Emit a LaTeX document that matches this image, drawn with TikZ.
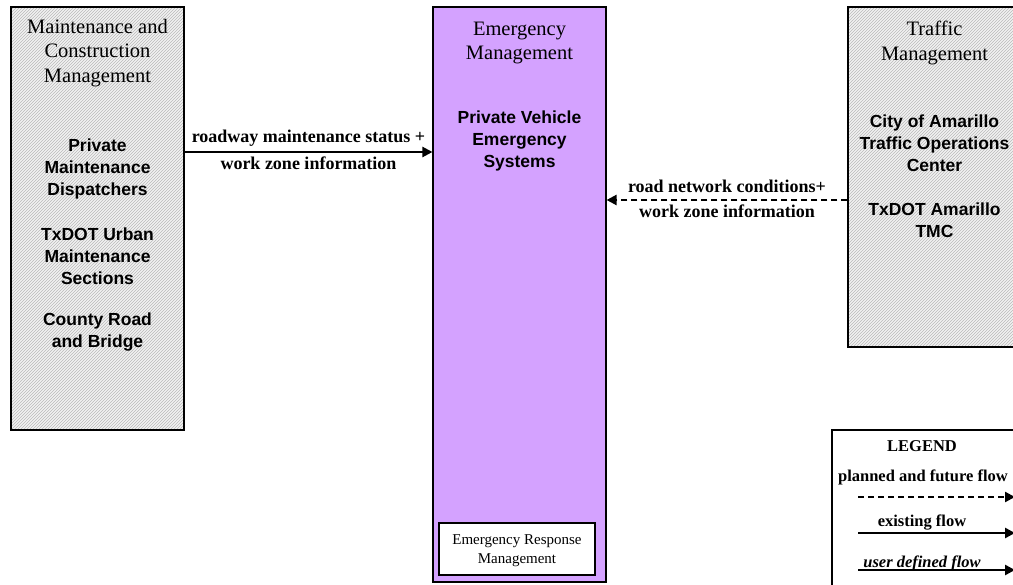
\documentclass[tikz,border=0pt]{standalone}
\usepackage{fontspec}
\setmainfont{Liberation Serif}
\newfontfamily\sansf{Liberation Sans}
\usetikzlibrary{arrows.meta,patterns}
\definecolor{empurple}{RGB}{212,162,255}
\tikzset{
  hatchbox/.style={draw=black, line width=1.1pt, preaction={fill=gray!10}, pattern=north east lines, pattern color=gray!55, inner sep=0pt},
  purplebox/.style={draw=black, line width=1.1pt, fill=empurple, inner sep=0pt},
  titletext/.style={font=\fontsize{20.5}{24.5}\selectfont, align=center, inner sep=0pt},
  systext/.style={font=\sansf\bfseries\fontsize{17.5}{22}\selectfont, align=center, inner sep=0pt},
  labeltext/.style={font=\bfseries\fontsize{18}{24}\selectfont, inner sep=0pt},
  legtext/.style={font=\bfseries\fontsize{16.5}{20}\selectfont, inner sep=0pt},
  solidflow/.style={line width=2.2pt, -{Triangle[length=10pt,width=10pt]}},
  dashflow/.style={line width=2.2pt, dash pattern=on 6pt off 4pt, -{Triangle[length=10pt,width=10pt]}},
}
\begin{document}
\begin{tikzpicture}[x=1pt,y=-1pt]
\useasboundingbox (0,0) rectangle (1013,585);
\clip (0,0) rectangle (1013,585);
% boxes
\node[hatchbox, minimum width=173pt, minimum height=423pt] (L) at (97.5,218.5) {};
\node[purplebox, minimum width=173pt, minimum height=575pt] (C) at (519.5,294.5) {};
\node[hatchbox, minimum width=173pt, minimum height=340pt] (R) at (934.5,177) {};
\node[draw=black, line width=1.1pt, fill=white, minimum width=184pt, minimum height=160pt] (G) at (924,510) {};
\node[draw=black, line width=1.1pt, fill=white, minimum width=156pt, minimum height=52pt, inner sep=0pt] (S) at (517,549) {};
% left box text
\node[titletext] (Lt) at (97.5,53) {Maintenance and\\Construction\\Management};
\node[systext] (L1) at (97.5,169) {Private\\Maintenance\\Dispatchers};
\node[systext] (L2) at (97.5,256.5) {TxDOT Urban\\Maintenance\\Sections};
\node[systext] (L3) at (97.5,332) {County Road\\and Bridge};
% center box text
\node[titletext] (Ct) at (519.5,43) {Emergency\\Management};
\node[systext] (C1) at (519.5,141) {Private Vehicle\\Emergency\\Systems};
\node[font=\fontsize{15}{19}\selectfont, align=center, inner sep=0pt] (St) at (517,551) {Emergency Response\\Management};
% right box text
\node[titletext] (Rt) at (934.5,43) {Traffic\\Management};
\node[systext] (R1) at (934.5,143) {City of Amarillo\\Traffic Operations\\Center};
\node[systext] (R2) at (934.5,220) {TxDOT Amarillo\\TMC};
% flows
\draw[solidflow] (L.east |- 0,152) -- (C.west |- 0,152)
  node[labeltext, midway, yshift=14pt] (f1a) {roadway maintenance status +}
  node[labeltext, midway, yshift=-11pt] (f1b) {work zone information};
\draw[dashflow] (R.west |- 0,200) -- (C.east |- 0,200)
  node[labeltext, midway, yshift=14pt] (f2a) {road network conditions+}
  node[labeltext, midway, yshift=-11pt] (f2b) {work zone information};
% legend
\node[legtext] (Gt) at (922,446) {LEGEND};
\node[legtext] (Gp) at (923,477) {planned and future flow};
\node[legtext] (Ge) at (922,523) {existing flow};
\node[legtext, font=\bfseries\itshape\fontsize{16.5}{20}\selectfont] (Gu) at (922,563) {user defined flow};
\coordinate (p1) at (858,497); \coordinate (p2) at (1015,497);
\coordinate (e1) at (858,533); \coordinate (e2) at (1015,533);
\coordinate (u1) at (858,570); \coordinate (u2) at (1015,570);
\draw[dashflow] (p1) -- (p2);
\draw[solidflow, line width=2.5pt] (e1) -- (e2);
\draw[solidflow, line width=2.7pt] (u1) -- (u2);
\end{tikzpicture}
\end{document}
